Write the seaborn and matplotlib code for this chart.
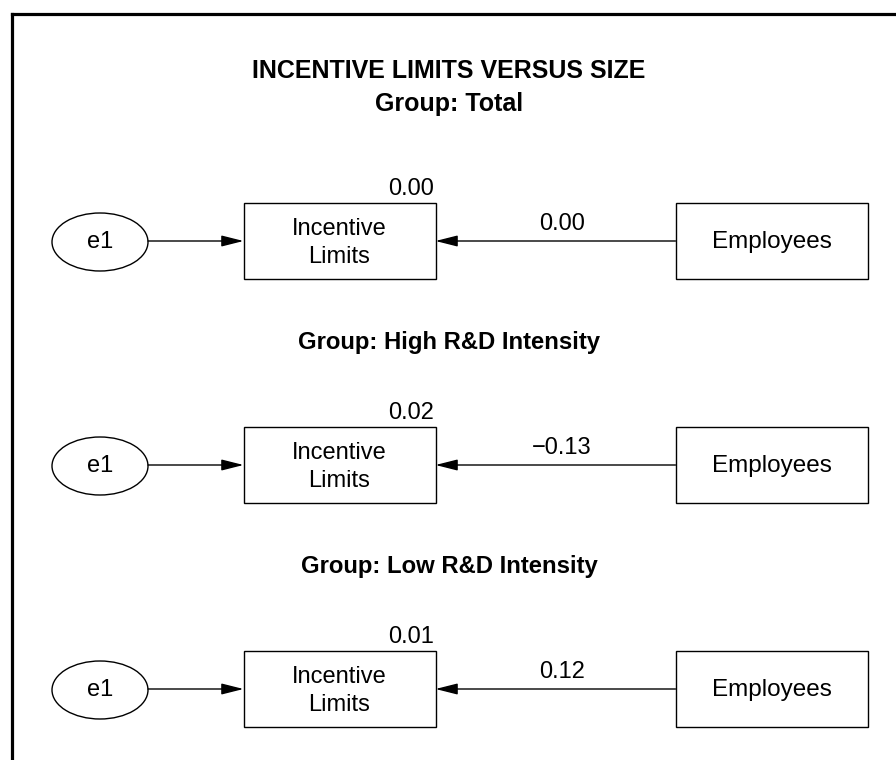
import matplotlib
matplotlib.use("Agg")
import matplotlib.pyplot as plt
from matplotlib.patches import Rectangle, Ellipse, FancyArrowPatch
import seaborn as sns

# path model values, one row per group
groups = ["Total", "High R&D Intensity", "Low R&D Intensity"]
r_squared = [0.00, 0.02, 0.01]
path_coef = [0.00, -0.13, 0.12]
title = "INCENTIVE LIMITS VERSUS SIZE"
error_name = "e1"
outcome_name = "Incentive\nLimits"
predictor_name = "Employees"


def fmt(v):
    return f"{v:.2f}".replace("-", "\u2212")


sns.set_theme(style="white")
plt.rcParams["font.family"] = ["Liberation Sans", "DejaVu Sans"]
plt.rcParams["text.color"] = "black"

fig = plt.figure(figsize=(8.96, 7.6), dpi=100)
ax = fig.add_axes([0, 0, 1, 1])
ax.set_xlim(0, 896)
ax.set_ylim(760, 0)
ax.axis("off")

# frame (only top and left edges visible)
ax.plot([11.5, 900], [13.5, 13.5], color="black", lw=2.3, solid_capstyle="projecting")
ax.plot([11.5, 11.5], [13.5, 770], color="black", lw=2.3, solid_capstyle="projecting")

ax.text(449, 71, title, ha="center", va="center", fontsize=18, fontweight="bold")

label_y = [104, 342, 566]
row_y = [241, 465, 689]
box_h = 76
for i, g in enumerate(groups):
    yc = row_y[i]
    ax.text(449, label_y[i], f"Group: {g}", ha="center", va="center",
            fontsize=17.2 if i else 18, fontweight="bold")

    # error term
    ax.add_patch(Ellipse((100, yc + 1), 96, 58, fill=False, ec="black", lw=1.0))
    ax.text(100, yc + 1, error_name, ha="center", va="center", fontsize=17)

    # outcome box
    ax.add_patch(Rectangle((243.5, yc - box_h / 2), 192, box_h, fill=False,
                           ec="black", lw=1.0))
    ax.text(339.5, yc + 2, outcome_name, ha="center", va="center",
            fontsize=17, linespacing=1.3)
    ax.text(434, yc - 41, fmt(r_squared[i]), ha="right", va="bottom",
            fontsize=17)

    # predictor box
    ax.add_patch(Rectangle((675.5, yc - box_h / 2), 192, box_h, fill=False,
                           ec="black", lw=1.0))
    ax.text(771.5, yc + 1, predictor_name, ha="center", va="center",
            fontsize=17.5)

    # arrows
    for x0, x1 in [(148, 243.5), (675.5, 435.5)]:
        ax.add_patch(FancyArrowPatch((x0, yc), (x1, yc),
                                     arrowstyle="-|>,head_length=13.5,head_width=3.4",
                                     mutation_scale=1, shrinkA=0, shrinkB=0,
                                     color="black", lw=1.0))
    ax.text(562, yc - 6, fmt(path_coef[i]), ha="center", va="bottom",
            fontsize=17)

fig.savefig("out.png", dpi=100, facecolor="white")
